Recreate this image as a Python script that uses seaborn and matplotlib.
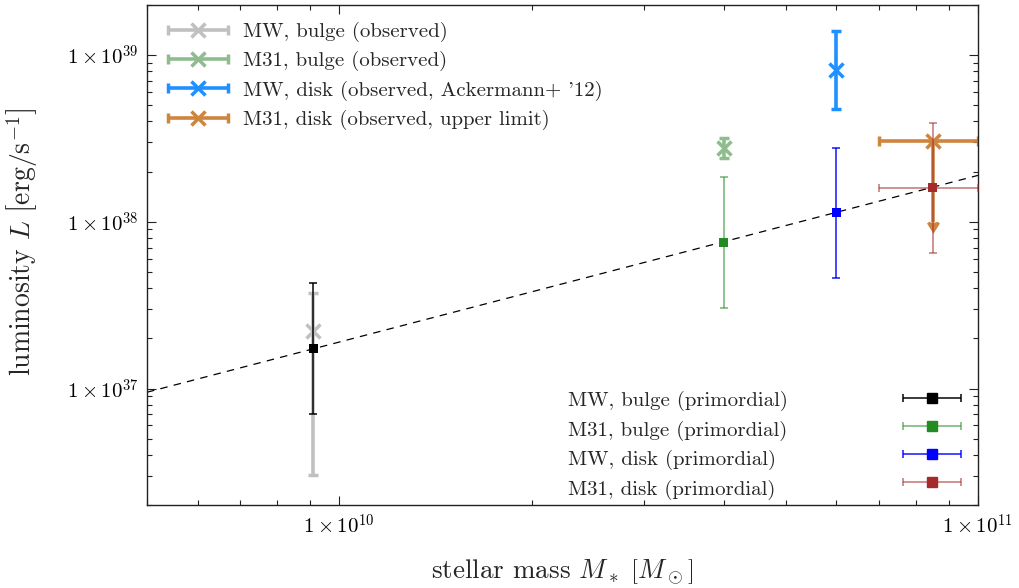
import numpy as np
import matplotlib
matplotlib.use("Agg")
import matplotlib.pyplot as plt
import matplotlib.colors as mcolors
from matplotlib.lines import Line2D
from matplotlib.legend_handler import HandlerErrorbar
from matplotlib.ticker import LogLocator, FuncFormatter, NullFormatter
import seaborn as sns

# ---- observed gamma-ray luminosities ----
obs_labels = ["MW, bulge (observed)", "M31, bulge (observed)",
              "MW, disk (observed, Ackermann+ '12)",
              "M31, disk (observed, upper limit)"]
obs_mass = [9.1e9, 4.0e10, 6.0e10, 8.5e10]
obs_mass_lo = [9.1e9, 4.0e10, 6.0e10, 7.0e10]
obs_mass_hi = [9.1e9, 4.0e10, 6.0e10, 1.0e11]
obs_lum = [2.22e37, 2.76e38, 8.1e38, 3.04e38]
obs_lum_lo = [3.02e36, 2.4e38, 4.76e38, 1.0e38]
obs_lum_hi = [3.74e37, 3.2e38, 1.39e39, 3.04e38]
obs_upper_limit = [False, False, False, True]
obs_colors = ["#c0c0c0", "#8fbc8f", "#1e90ff", "#cd853f"]

# ---- primordial (model) luminosities ----
prim_labels = ["MW, bulge (primordial)", "M31, bulge (primordial)",
               "MW, disk (primordial)", "M31, disk (primordial)"]
prim_mass = [9.1e9, 4.0e10, 6.0e10, 8.5e10]
prim_mass_lo = [9.1e9, 4.0e10, 6.0e10, 7.0e10]
prim_mass_hi = [9.1e9, 4.0e10, 6.0e10, 1.0e11]
prim_lum = [1.73e37, 7.5e37, 1.13e38, 1.6e38]
prim_lum_lo = [7.0e36, 3.06e37, 4.6e37, 6.5e37]
prim_lum_hi = [4.3e37, 1.87e38, 2.79e38, 3.94e38]
prim_colors = ["#000000", "#228b22", "#0000ff", "#a52a2a"]
prim_bar_alpha = [0.9, 0.6, 0.85, 0.6]

# ---- linear scaling L ∝ M* ----
model_mass = [5e9, 1e11]
model_lum = [9.5e36, 1.9e38]

sns.set_style("ticks")
plt.rcParams.update({
    "font.family": "serif",
    "font.serif": ["cmr10", "DejaVu Serif"],
    "mathtext.fontset": "cm",
    "axes.formatter.use_mathtext": True,
    "axes.unicode_minus": False,
    "axes.edgecolor": "#222222",
    "axes.linewidth": 1.0,
})

fig = plt.figure(figsize=(10.2, 5.88), dpi=100)
ax = fig.add_axes([147 / 1020, 1 - 505 / 588, 831 / 1020, 500 / 588])
ax.set_xscale("log")
ax.set_yscale("log")

sns.lineplot(x=model_mass, y=model_lum, ax=ax, color="black", lw=0.9,
             linestyle=(0, (6, 5)), zorder=1.5, legend=False)


def asym(vals, lo, hi):
    v = np.asarray(vals)
    return np.vstack([v - np.asarray(lo), np.asarray(hi) - v])


obs_xerr = asym(obs_mass, obs_mass_lo, obs_mass_hi)
obs_yerr = asym(obs_lum, obs_lum_lo, obs_lum_hi)
for i in range(len(obs_mass)):
    xe = obs_xerr[:, i:i + 1] if obs_xerr[:, i].any() else None
    ax.errorbar([obs_mass[i]], [obs_lum[i]], xerr=xe, yerr=obs_yerr[:, i:i + 1],
                uplims=obs_upper_limit[i], fmt="x", color=obs_colors[i],
                ms=10, mew=2.5, elinewidth=2.6, capsize=3.6, capthick=2.2,
                zorder=2)

prim_xerr = asym(prim_mass, prim_mass_lo, prim_mass_hi)
prim_yerr = asym(prim_lum, prim_lum_lo, prim_lum_hi)
for i in range(len(prim_mass)):
    xe = prim_xerr[:, i:i + 1] if prim_xerr[:, i].any() else None
    ec = mcolors.to_rgba(prim_colors[i], prim_bar_alpha[i])
    ax.errorbar([prim_mass[i]], [prim_lum[i]], xerr=xe, yerr=prim_yerr[:, i:i + 1],
                fmt="none", ecolor=ec, elinewidth=1.2, capsize=3.2,
                capthick=1.2, zorder=3)
sns.scatterplot(x=prim_mass, y=prim_lum, hue=prim_labels, palette=prim_colors,
                marker="s", s=42, linewidth=0, ax=ax, zorder=4, legend=False)

ax.set_xlim(5e9, 1e11)
ax.set_ylim(2e36, 2e39)

ax.xaxis.set_major_locator(LogLocator(base=10, numticks=10))
ax.yaxis.set_major_locator(LogLocator(base=10, numticks=10))
ax.xaxis.set_minor_locator(LogLocator(base=10, subs=np.arange(2, 10), numticks=20))
ax.yaxis.set_minor_locator(LogLocator(base=10, subs=np.arange(2, 10), numticks=20))
sci = FuncFormatter(lambda v, _: r"$1\times10^{%d}$" % int(round(np.log10(v))))
ax.xaxis.set_major_formatter(sci)
ax.yaxis.set_major_formatter(sci)
ax.xaxis.set_minor_formatter(NullFormatter())
ax.yaxis.set_minor_formatter(NullFormatter())
ax.tick_params(which="both", direction="in", top=True, right=True,
               labelsize=15, colors="#222222", labelcolor="black")
ax.tick_params(which="major", length=6.5, width=0.8, pad=6)
ax.tick_params(which="minor", length=3.5, width=0.8)

ax.set_xlabel(r"stellar mass $M_*\ \left[M_\odot\right]$", fontsize=19.5)
ax.set_ylabel(r"luminosity $L\ \left[\mathrm{erg/s}^{-1}\right]$", fontsize=20)
ax.xaxis.set_label_coords(0.5, -0.104)
ax.yaxis.set_label_coords(-0.129, 0.526)

# ---- legend handles ----
obs_handles = [ax.errorbar([np.nan], [np.nan], xerr=[1.0], fmt="x", color=c,
                           ms=10, mew=2.5, elinewidth=2.6, capsize=3.6, capthick=2.2)
               for c in obs_colors]
prim_handles = [ax.errorbar([np.nan], [np.nan], xerr=[1.0], fmt="s", color=c,
                            ecolor=mcolors.to_rgba(c, a), ms=6.5,
                            elinewidth=1.2, capsize=3.2, capthick=1.2)
                for c, a in zip(prim_colors, prim_bar_alpha)]

leg_fs = 15
leg1 = ax.legend(obs_handles, obs_labels, loc="upper left",
                 bbox_to_anchor=(0.0253, 0.966), borderaxespad=0, borderpad=0,
                 frameon=False, fontsize=leg_fs, handlelength=2.9,
                 handletextpad=0.7, labelspacing=0.44,
                 handler_map={type(obs_handles[0]): HandlerErrorbar(xerr_size=1.45)})
ax.add_artist(leg1)

blank = [Line2D([], [], linestyle="none") for _ in prim_labels]
leg2 = ax.legend(blank, prim_labels, loc="upper left",
                 bbox_to_anchor=(0.507, 0.228), borderaxespad=0, borderpad=0,
                 frameon=False, fontsize=leg_fs, handlelength=0,
                 handletextpad=0, labelspacing=0.45)
ax.add_artist(leg2)

ax.legend(prim_handles, [""] * len(prim_handles), loc="upper left",
          bbox_to_anchor=(0.91, 0.228), borderaxespad=0, borderpad=0,
          frameon=False, fontsize=leg_fs, handlelength=2.75, handletextpad=0,
          labelspacing=0.45,
          handler_map={type(prim_handles[0]): HandlerErrorbar(xerr_size=1.375)})

fig.savefig("out.png", dpi=100)
